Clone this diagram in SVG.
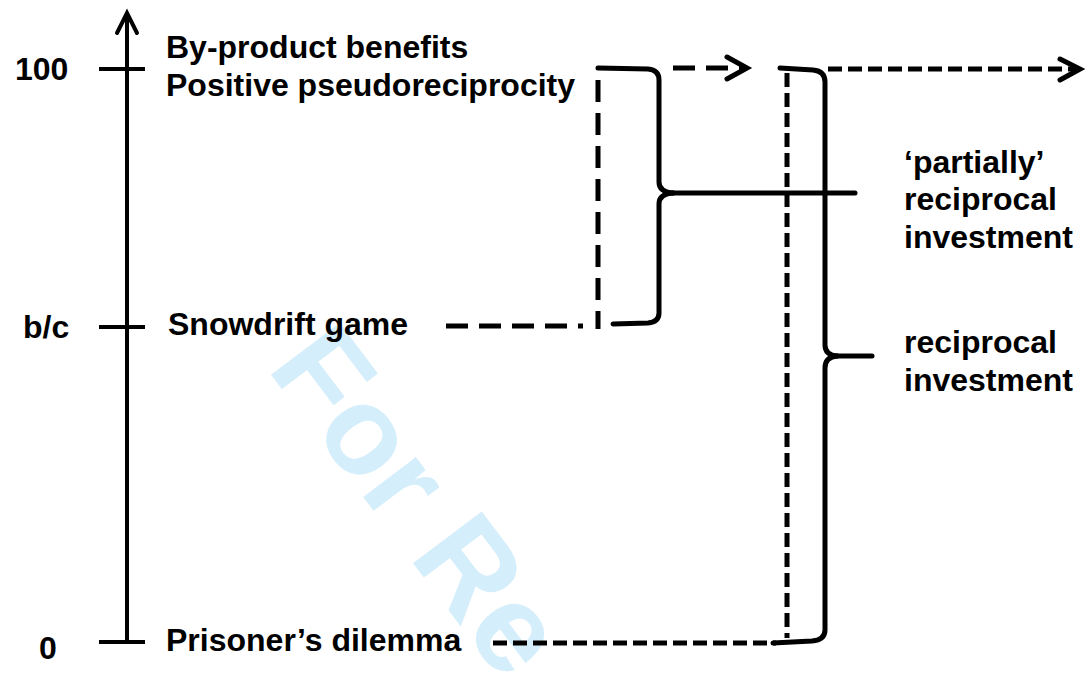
<svg xmlns="http://www.w3.org/2000/svg" width="1088" height="673" viewBox="0 0 1088 673">
  <style>
    .t { font-family: "Liberation Sans", Arial, sans-serif; font-weight: bold; font-size: 32px; fill: #000; }
    .wm { font-family: "Liberation Sans", Arial, sans-serif; font-weight: bold; font-size: 125px; fill: #D4EEFB; }
    .solid { fill: none; stroke: #000; stroke-width: 5; stroke-linecap: round; stroke-linejoin: round; }
    .axis { fill: none; stroke: #000; stroke-width: 4; }
    .dashL { fill: none; stroke: #000; stroke-width: 5; stroke-dasharray: 22 11; }
    .dashS { fill: none; stroke: #000; stroke-width: 5; stroke-dasharray: 14 6; }
    .head { fill: none; stroke: #000; stroke-width: 5; stroke-linecap: round; stroke-linejoin: miter; }
  </style>
  <rect width="1088" height="673" fill="#fff"/>

  <text class="wm" x="266" y="368" transform="rotate(53 266 368)">For Re</text>

  <g id="axis">
    <line class="axis" x1="127" y1="14" x2="127" y2="644"/>
    <polyline class="axis" points="117,33 127,13 137,33" stroke-linecap="round"/>
    <line class="axis" x1="99" y1="69" x2="145" y2="69"/>
    <line class="axis" x1="99" y1="327" x2="145" y2="327"/>
    <line class="axis" x1="99" y1="642" x2="145" y2="642"/>
  </g>

  <g id="axis-labels">
    <text class="t" x="15" y="80">100</text>
    <text class="t" x="23" y="338">b/c</text>
    <text class="t" x="39" y="659">0</text>
  </g>

  <g id="node-byproduct">
    <text class="t" x="166" y="58">By-product benefits</text>
    <text class="t" x="166" y="96">Positive pseudoreciprocity</text>
  </g>
  <g id="node-snowdrift">
    <text class="t" x="168" y="335">Snowdrift game</text>
  </g>
  <g id="node-prisoner">
    <text class="t" x="166" y="651">Prisoner’s dilemma</text>
  </g>
  <g id="node-partial">
    <text class="t" x="904" y="173">‘partially’</text>
    <text class="t" x="904" y="210">reciprocal</text>
    <text class="t" x="904" y="248">investment</text>
  </g>
  <g id="node-reciprocal">
    <text class="t" x="904" y="353">reciprocal</text>
    <text class="t" x="904" y="391">investment</text>
  </g>

  <g id="connectors">
    <path class="dashL" d="M446,326 L583,326" stroke-dasharray="26 11"/>
    <path class="dashL" d="M598,80 L598,329"/>
    <path class="solid" d="M598,68 L648,69 Q659,70 659,80 L659,182 Q659,192 673,193"/>
    <path class="solid" d="M673,193 Q659,194 659,204 L659,313 Q659,322 648,323 L613,324"/>
    <path class="solid" d="M673,193 L855,193"/>
    <path class="dashL" d="M673,68 L746,68" stroke-dasharray="20 17"/>
    <polyline class="head" points="727,57 747,68 727,79"/>
    <path class="dashS" d="M787,73 L787,638"/>
    <path class="dashS" d="M493,643 L776,643"/>
    <path class="solid" d="M780,68 L813,70 Q825,71 825,82 L825,345 Q825,355 837,356"/>
    <path class="solid" d="M837,356 Q825,357 825,368 L825,630 Q825,640 812,641 L773,643"/>
    <path class="solid" d="M837,356 L872,356"/>
    <path class="dashS" d="M828,69 L1078,69" stroke-dasharray="15 8"/>
    <polyline class="head" points="1060,59 1080,69 1060,80"/>
  </g>
</svg>
